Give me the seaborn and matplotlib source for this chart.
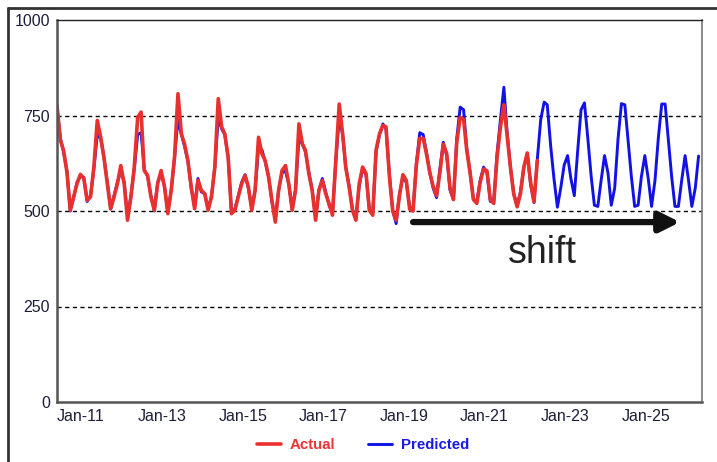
import matplotlib
matplotlib.use("Agg")
import matplotlib.pyplot as plt
import matplotlib.dates as mdates
import matplotlib.patheffects as pe
from matplotlib.lines import Line2D
import seaborn as sns
import pandas as pd
import numpy as np

# 月次データ（2011年1月〜）
start_month = "2011-01-01"

actual = [
    776, 685, 659, 602, 502, 537, 571, 596, 585, 528, 537, 615,   # 2011
    737, 693, 641, 571, 506, 537, 571, 619, 571, 476, 537, 615,   # 2012
    745, 759, 606, 593, 537, 502, 571, 606, 563, 493, 554, 641,   # 2013
    807, 702, 676, 632, 563, 506, 580, 554, 545, 502, 537, 615,   # 2014
    794, 720, 702, 640, 493, 502, 537, 571, 593, 563, 502, 554,   # 2015
    693, 650, 632, 589, 528, 471, 554, 606, 619, 571, 502, 554,   # 2016
    728, 676, 659, 598, 554, 476, 554, 580, 545, 519, 489, 632,   # 2017
    780, 702, 615, 563, 502, 476, 571, 615, 598, 502, 489, 660,   # 2018
    702, 724, 720, 590, 500, 476, 540, 595, 580, 505, 500, 620,   # 2019
    690, 690, 650, 600, 565, 540, 600, 675, 650, 560, 530, 680,   # 2020
    745, 740, 660, 600, 530, 520, 575, 610, 605, 530, 520, 640,   # 2021
    720, 778, 700, 615, 545, 511, 545, 615, 652, 575, 524, 632,   # 2022
]

predicted = [
    770, 690, 655, 605, 500, 535, 575, 592, 588, 525, 540, 610,   # 2011
    700, 690, 640, 575, 505, 540, 575, 605, 575, 485, 540, 610,   # 2012
    700, 705, 610, 590, 540, 500, 575, 600, 565, 498, 555, 640,   # 2013
    740, 700, 670, 630, 560, 510, 585, 550, 545, 505, 540, 615,   # 2014
    745, 715, 700, 640, 497, 505, 540, 575, 595, 560, 505, 555,   # 2015
    665, 660, 630, 590, 525, 480, 555, 600, 605, 570, 505, 555,   # 2016
    690, 675, 655, 600, 555, 485, 555, 585, 550, 515, 495, 630,   # 2017
    745, 700, 615, 565, 505, 480, 565, 610, 595, 505, 495, 655,   # 2018
    700, 728, 715, 595, 500, 467, 545, 590, 575, 510, 505, 625,   # 2019
    705, 700, 655, 600, 560, 535, 610, 680, 645, 555, 530, 690,   # 2020
    772, 765, 665, 600, 530, 525, 580, 615, 600, 525, 525, 650,   # 2021
    740, 824, 710, 615, 545, 515, 550, 615, 650, 570, 522, 636,   # 2022
    740, 785, 778, 670, 584, 510, 560, 620, 645, 585, 540, 655,   # 2023
    765, 783, 695, 593, 515, 512, 580, 645, 600, 515, 560, 688,   # 2024
    781, 778, 688, 590, 512, 515, 590, 645, 585, 512, 580, 690,   # 2025
    780, 780, 690, 590, 512, 512, 580, 645, 580, 512, 560, 644,   # 2026
]

y_ticks = [0, 250, 500, 750, 1000]
grid_levels = [250, 500, 750]
tick_years = [2011, 2013, 2015, 2017, 2019, 2021, 2023, 2025]

dates = pd.date_range(start_month, periods=len(predicted), freq="MS")
df_pred = pd.DataFrame({"date": dates, "value": predicted})
df_act = pd.DataFrame({"date": dates[:len(actual)], "value": actual})

sns.set_style("white")
plt.rcParams["font.family"] = ["Liberation Sans", "DejaVu Sans"]

fig = plt.figure(figsize=(7.17, 4.62), dpi=100)
ax = fig.add_axes([57 / 717, 1 - 402 / 462, 645 / 717, 382 / 462])

sns.lineplot(x="date", y="value", data=df_pred, color="#1212e6", lw=2.1, ax=ax, label="Predicted")
sns.lineplot(x="date", y="value", data=df_act, color="#e8312f", lw=2.6, ax=ax, label="Actual")

for lv in grid_levels:
    ax.axhline(lv, color="black", lw=1.0, ls=(0, (3, 2.5)), zorder=0)

ax.set_ylim(0, 1000)
ax.set_xlim(pd.Timestamp("2011-01-01"), pd.Timestamp("2027-01-01"))
ax.set_yticks(y_ticks)
ax.set_xticks([pd.Timestamp(f"{y}-01-01") for y in tick_years])
ax.xaxis.set_major_formatter(mdates.DateFormatter("%b-%y"))
ax.set_xlabel("")
ax.set_ylabel("")
ax.tick_params(axis="both", labelsize=11.5, labelcolor="#1e1e3a", length=3,
               width=1, color="#555555", pad=2)
for lbl in ax.get_xticklabels():
    lbl.set_ha("left")

for side in ["left", "bottom"]:
    ax.spines[side].set_color("#555555")
    ax.spines[side].set_linewidth(1.8)
ax.spines["top"].set_color("#222222")
ax.spines["top"].set_linewidth(1.0)
ax.spines["right"].set_color("#777777")
ax.spines["right"].set_linewidth(1.2)

# 凡例（下部中央、文字色付き）
h, l = ax.get_legend_handles_labels()
order = [l.index("Actual"), l.index("Predicted")]
leg = ax.legend([h[i] for i in order], [l[i] for i in order], loc="upper center",
                bbox_to_anchor=(0.474, -0.06), ncol=2, frameon=False,
                handlelength=1.6, columnspacing=2.15, handletextpad=0.6,
                prop={"size": 10.8, "weight": "bold"})
for txt, col in zip(leg.get_texts(), ["#ee3333", "#1a1ae8"]):
    txt.set_color(col)

# shift の矢印
ax.annotate("", xy=(pd.Timestamp("2026-06-15"), 471), xytext=(pd.Timestamp("2019-11-01"), 471),
            arrowprops=dict(arrowstyle="-|>", lw=4.5, color="#111111", mutation_scale=30,
                            shrinkA=0, shrinkB=0,
                            path_effects=[pe.SimplePatchShadow(offset=(1.5, -2), alpha=0.3), pe.Normal()]))
ax.text(pd.Timestamp("2023-01-20"), 390, "shift", fontsize=27, color="#222222",
        ha="center", va="center")

# 外枠
fig.add_artist(Line2D([8 / 717, 8 / 717], [0, 1 - 8 / 462], color="#333333", lw=2.0))
fig.add_artist(Line2D([8 / 717, 1], [1 - 8 / 462, 1 - 8 / 462], color="#333333", lw=2.0))

fig.savefig("out.png", dpi=100)
